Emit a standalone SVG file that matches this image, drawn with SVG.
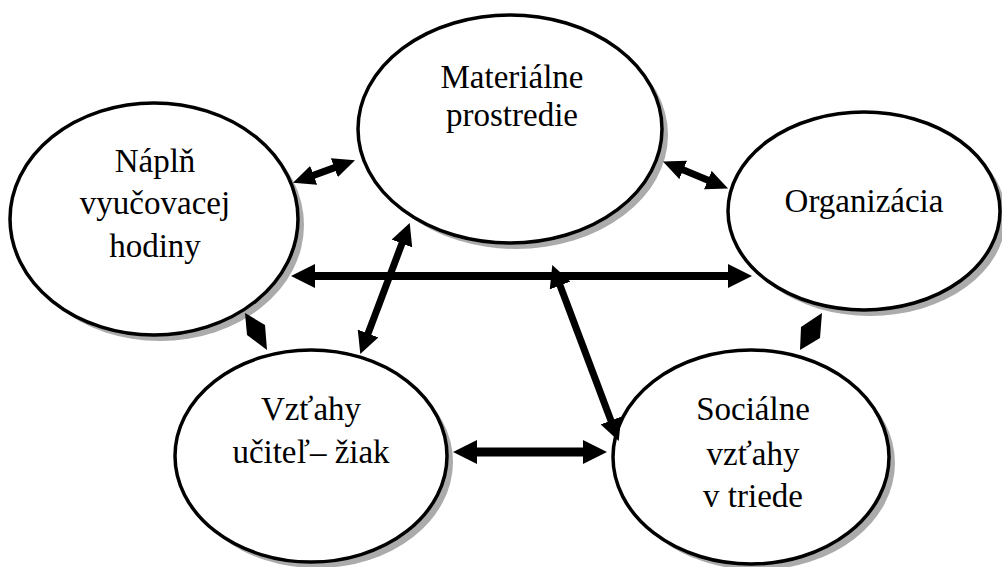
<svg xmlns="http://www.w3.org/2000/svg" width="1002" height="567" viewBox="0 0 1002 567">
<style>
.shadow{fill:#ababab;stroke:none}
.node{fill:#fff;stroke:#000;stroke-width:3.5}
.lbl{font-family:'Liberation Serif','Times New Roman',Times,serif;font-size:33px;fill:#000;text-anchor:middle}
.conn{stroke:#000;fill:none}
.dia{fill:#000;stroke:none}
</style>
<defs>
<marker id="hs" markerUnits="userSpaceOnUse" viewBox="0 0 22 20" markerWidth="22" markerHeight="20" refX="1" refY="10" orient="auto-start-reverse"><path d="M0,0 L22,10 L0,20 z" fill="#000"/></marker>
<marker id="hm" markerUnits="userSpaceOnUse" viewBox="0 0 22 22" markerWidth="22" markerHeight="22" refX="1" refY="11" orient="auto-start-reverse"><path d="M0,0 L22,11 L0,22 z" fill="#000"/></marker>
<marker id="hb" markerUnits="userSpaceOnUse" viewBox="0 0 24 24" markerWidth="24" markerHeight="24" refX="1" refY="12" orient="auto-start-reverse"><path d="M0,0 L24,12 L0,24 z" fill="#000"/></marker>
</defs>

<g id="node-naplne">
<ellipse class="shadow" cx="160" cy="225" rx="144" ry="116"/>
<ellipse class="node" cx="154" cy="219" rx="144" ry="116"/>
<text class="lbl" x="155" y="172">Náplň</text>
<text class="lbl" x="155" y="214">vyučovacej</text>
<text class="lbl" x="155" y="257">hodiny</text>
</g>

<g id="node-materialne">
<ellipse class="shadow" cx="516" cy="135" rx="152" ry="114"/>
<ellipse class="node" cx="510" cy="129" rx="152" ry="114"/>
<text class="lbl" x="512" y="88">Materiálne</text>
<text class="lbl" x="512" y="126">prostredie</text>
</g>

<g id="node-organizacia">
<ellipse class="shadow" cx="870" cy="217" rx="136" ry="99"/>
<ellipse class="node" cx="864" cy="211" rx="136" ry="99"/>
<text class="lbl" x="864" y="212">Organizácia</text>
</g>

<g id="node-vztahy">
<ellipse class="shadow" cx="317" cy="462" rx="136" ry="106"/>
<ellipse class="node" cx="311" cy="456" rx="136" ry="106"/>
<text class="lbl" x="311" y="420">Vzťahy</text>
<text class="lbl" x="311" y="463">učiteľ– žiak</text>
</g>

<g id="node-socialne">
<ellipse class="shadow" cx="757" cy="463" rx="138" ry="107"/>
<ellipse class="node" cx="751" cy="457" rx="138" ry="107"/>
<text class="lbl" x="753" y="420">Sociálne</text>
<text class="lbl" x="753" y="465">vzťahy</text>
<text class="lbl" x="753" y="507">v triede</text>
</g>

<g id="connectors">
<line class="conn" stroke-width="7" x1="312.7" y1="175.6" x2="335.3" y2="167.4" marker-start="url(#hs)" marker-end="url(#hs)"/>
<line class="conn" stroke-width="7" x1="682.3" y1="169.5" x2="708.7" y2="180.5" marker-start="url(#hs)" marker-end="url(#hs)"/>
<line class="conn" stroke-width="8" x1="314" y1="276" x2="729" y2="276" marker-start="url(#hb)" marker-end="url(#hb)"/>
<line class="conn" stroke-width="7" x1="402.3" y1="242.6" x2="367.7" y2="334.4" marker-start="url(#hm)" marker-end="url(#hm)"/>
<line class="conn" stroke-width="7" x1="559.7" y1="284.6" x2="611.3" y2="421.4" marker-start="url(#hm)" marker-end="url(#hm)"/>
<polygon class="dia" points="245,313 265,325 267,350 247,335"/>
<polygon class="dia" points="822,313 820,338 800,350 801,327"/>
<line class="conn" stroke-width="9" x1="476" y1="452" x2="584" y2="452" marker-start="url(#hb)" marker-end="url(#hb)"/>
</g>
</svg>
